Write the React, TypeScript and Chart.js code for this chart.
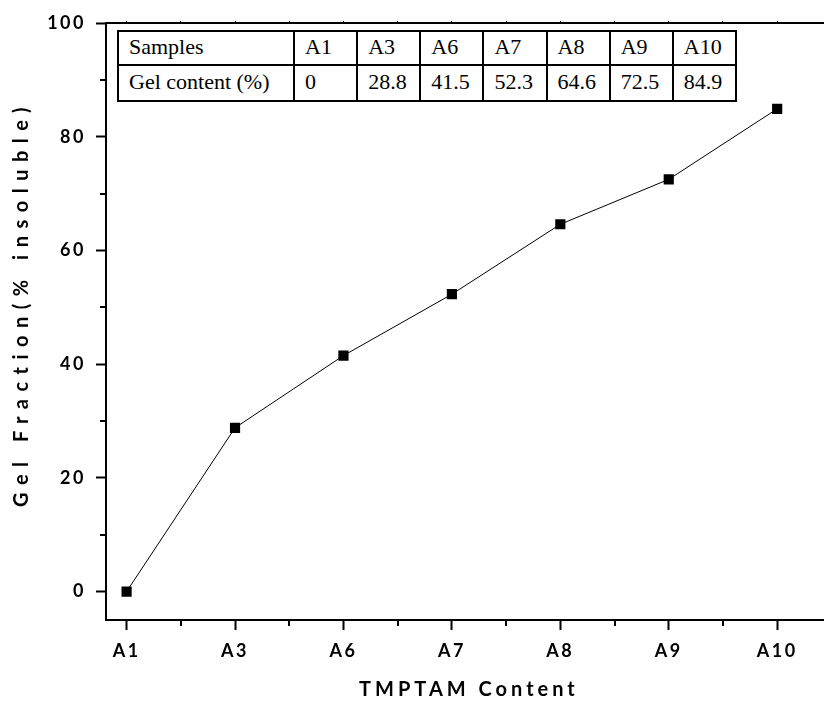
import React, { useEffect, useRef } from "react";
import { Chart, registerables } from "chart.js";

Chart.register(...registerables);

// Samples and their measured gel content
const samples = ["A1", "A3", "A6", "A7", "A8", "A9", "A10"];
const gelContent = [0, 28.8, 41.5, 52.3, 64.6, 72.5, 84.9];
const gelContentText = ["0", "28.8", "41.5", "52.3", "64.6", "72.5", "84.9"];

// Axis ticks
const yMajorTicks = [0, 20, 40, 60, 80, 100];
const yMinorTicks = [10, 30, 50, 70, 90];
const xMinorTicks = [0.5, 1.5, 2.5, 3.5, 4.5, 5.5];

const xTitle = "TMPTAM Content";
const yTitle = "Gel Fraction(% insoluble)";
const tableHeaders = ["Samples", "Gel content (%)"];

const W = 831;
const H = 704;
const AXIS_FONT = "Lato, 'Open Sans', sans-serif";

// Minor ticks and letter-spaced axis titles
const axisDecor = {
  id: "axisDecor",
  beforeDraw(chart: any) {
    chart.ctx.letterSpacing = "2.5px";
  },
  afterDraw(chart: any) {
    const { ctx, chartArea, scales } = chart;
    const xs = scales.x;
    const ys = scales.y;
    ctx.save();
    ctx.strokeStyle = "#000";
    ctx.lineWidth = 2;
    ctx.beginPath();
    for (const v of xMinorTicks) {
      const px = Math.round(xs.getPixelForValue(v));
      ctx.moveTo(px, chartArea.bottom);
      ctx.lineTo(px, chartArea.bottom + 6);
    }
    for (const v of yMinorTicks) {
      const py = Math.round(ys.getPixelForValue(v));
      ctx.moveTo(chartArea.left, py);
      ctx.lineTo(chartArea.left - 6, py);
    }
    ctx.stroke();

    ctx.fillStyle = "#000";
    ctx.font = `bold 20px ${AXIS_FONT}`;
    ctx.letterSpacing = "4px";
    ctx.textAlign = "center";
    ctx.textBaseline = "middle";
    ctx.fillText(xTitle, (chartArea.left + chartArea.right) / 2 + 4, chart.height - 14);

    ctx.translate(22, (chartArea.top + chartArea.bottom) / 2 - 14);
    ctx.rotate(-Math.PI / 2);
    ctx.letterSpacing = "7.5px";
    ctx.fillText(yTitle, 4, 0);
    ctx.restore();
  },
};

export default function App() {
  const canvasRef = useRef<HTMLCanvasElement | null>(null);

  useEffect(() => {
    if (!canvasRef.current) return;
    const chart = new Chart(canvasRef.current, {
      type: "line",
      data: {
        datasets: [
          {
            data: gelContent.map((v, i) => ({ x: i, y: v })),
            borderColor: "#000",
            borderWidth: 1,
            backgroundColor: "#000",
            pointStyle: "rect",
            pointRadius: 7.2,
            pointBorderWidth: 0,
            pointBackgroundColor: "#000",
            tension: 0,
            fill: false,
          },
        ],
      },
      options: {
        responsive: false,
        animation: false,
        events: [],
        layout: { padding: { top: 23, left: 0, right: 0, bottom: 0 } },
        plugins: {
          legend: { display: false },
          tooltip: { enabled: false },
          title: { display: false },
        },
        scales: {
          x: {
            type: "linear",
            position: "bottom",
            min: -0.19,
            max: 6.43,
            afterBuildTicks: (s: any) => {
              s.ticks = samples.map((_, i) => ({ value: i }));
            },
            afterFit: (s: any) => {
              s.height = 84;
            },
            ticks: {
              color: "#000",
              padding: 10,
              maxRotation: 0,
              autoSkip: false,
              font: { family: AXIS_FONT, size: 18, weight: "bold" },
              callback: (v: any) => samples[Math.round(Number(v))] ?? "",
            },
            grid: {
              display: true,
              drawOnChartArea: false,
              drawTicks: true,
              tickLength: 10,
              tickWidth: 2,
              tickColor: "#000",
            },
            border: { display: true, color: "#000", width: 2 },
          },
          x2: {
            type: "linear",
            position: "top",
            min: -0.19,
            max: 6.43,
            afterBuildTicks: (s: any) => {
              const t: any[] = [];
              samples.forEach((_, i) => {
                t.push({ value: i });
                if (i < samples.length - 1) t.push({ value: i + 0.5 });
              });
              s.ticks = t;
            },
            afterFit: (s: any) => {
              s.height = 0;
            },
            ticks: { display: false },
            grid: {
              display: true,
              drawOnChartArea: false,
              drawTicks: true,
              tickLength: 2,
              tickWidth: 1,
              tickColor: "#000",
            },
            border: { display: true, color: "#000", width: 2 },
          },
          y: {
            type: "linear",
            position: "left",
            min: -5,
            max: 100,
            afterBuildTicks: (s: any) => {
              s.ticks = yMajorTicks.map((v) => ({ value: v }));
            },
            afterFit: (s: any) => {
              s.width = 106;
            },
            ticks: {
              color: "#000",
              padding: 10,
              font: { family: AXIS_FONT, size: 18, weight: "bold" },
              callback: (v: any) => String(v),
            },
            grid: {
              display: true,
              drawOnChartArea: false,
              drawTicks: true,
              tickLength: 10,
              tickWidth: 2,
              tickColor: "#000",
            },
            border: { display: true, color: "#000", width: 2 },
          },
        },
      },
      plugins: [axisDecor],
    } as any);
    return () => chart.destroy();
  }, []);

  const cell: React.CSSProperties = {
    border: "2px solid #000",
    padding: "0 0 3px 10px",
    textAlign: "left",
    whiteSpace: "nowrap",
  };

  return (
    <div style={{ position: "fixed", left: 0, top: 0, width: W, height: H, background: "#fff" }}>
      <canvas ref={canvasRef} width={W} height={H} style={{ display: "block", width: W, height: H }} />
      <table
        style={{
          position: "absolute",
          left: 117,
          top: 30,
          width: 620,
          borderCollapse: "collapse",
          tableLayout: "fixed",
          fontFamily: "'Liberation Serif', 'Times New Roman', serif",
          fontSize: 22,
          color: "#000",
          background: "#fff",
          lineHeight: 1,
        }}
      >
        <colgroup>
          <col style={{ width: 176 }} />
          {samples.map((s) => (
            <col key={s} />
          ))}
        </colgroup>
        <tbody>
          <tr style={{ height: 34 }}>
            <td style={cell}>{tableHeaders[0]}</td>
            {samples.map((s) => (
              <td key={s} style={cell}>
                {s}
              </td>
            ))}
          </tr>
          <tr style={{ height: 36 }}>
            <td style={cell}>{tableHeaders[1]}</td>
            {gelContentText.map((t, i) => (
              <td key={samples[i]} style={cell}>
                {t}
              </td>
            ))}
          </tr>
        </tbody>
      </table>
    </div>
  );
}
